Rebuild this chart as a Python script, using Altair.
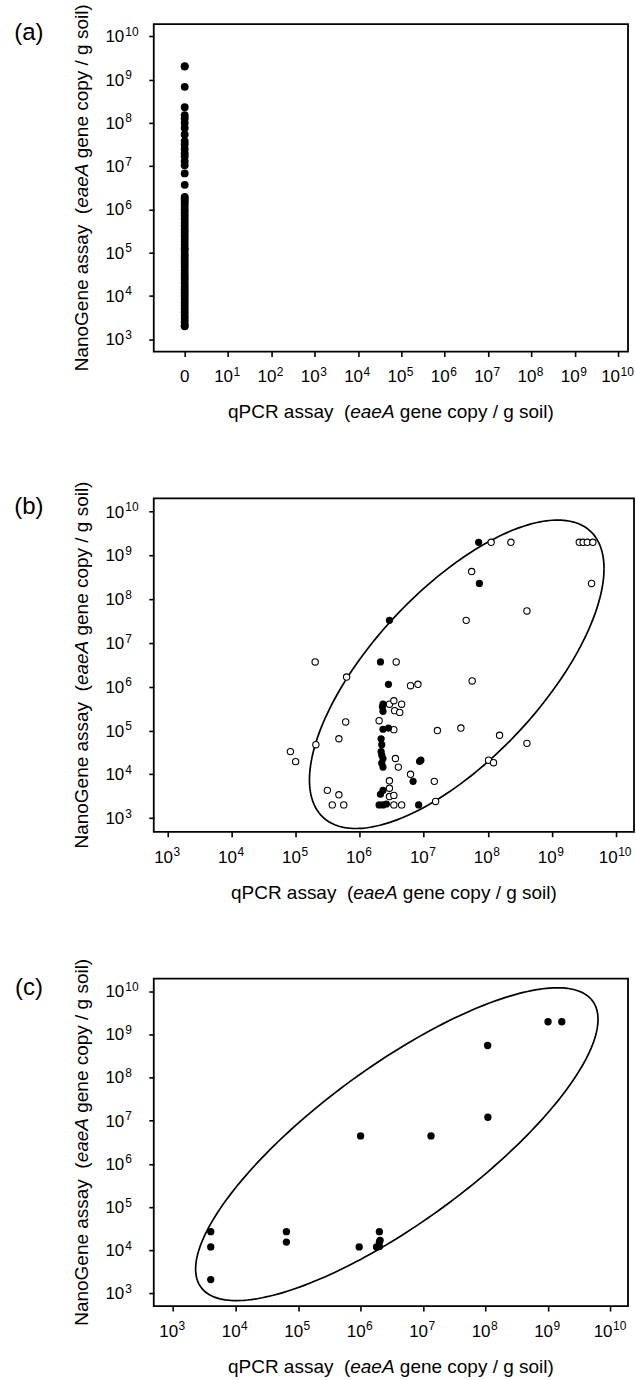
import numpy as np
import pandas as pd
import altair as alt

FONT = "Liberation Sans"

# ---------------- data (copies / g soil) ----------------
# (a) samples negative by qPCR: drawn at the "0" position of the log axis
a_qpcr_zero = 1.0
a_nano = [2.0e9, 2.05e9, 6.8e8, 2.3e8, 1.5e8, 1.26e8, 1.0e8, 7.6e7, 5.4e7,
          3.8e7, 3.2e7, 2.5e7, 2.0e7, 1.7e7, 1.3e7, 1.05e7, 6.8e6, 3.7e6,
          1.95e6, 1.78e6, 1.58e6, 1.41e6, 1.2e6, 1.0e6, 8.5e5, 7.1e5, 6.0e5,
          5.0e5, 4.2e5, 3.5e5, 3.0e5, 2.5e5, 2.1e5, 1.8e5, 1.5e5, 1.26e5,
          1.12e5, 9.3e4, 7.9e4, 6.6e4, 5.6e4, 4.8e4, 4.0e4, 3.3e4, 2.8e4,
          2.4e4, 2.0e4, 1.66e4, 1.41e4, 1.2e4, 1.0e4, 8.5e3, 7.1e3, 6.0e3,
          5.0e3, 4.2e3, 3.5e3, 3.0e3, 2.5e3, 2.1e3, 2.0e3]

# (b) open circles
b_open_qpcr = [2.0e5, 3.7e6, 6.2e5, 6.2e6, 8.1e6, 5.7e7, 2.9e6, 3.4e6, 4.5e6,
               3.5e6, 4.2e6, 2.0e6, 6.0e5, 3.4e6, 1.63e7, 3.8e7, 1.53e8, 4.1e8,
               4.7e5, 2.05e5, 3.6e6, 4.0e6, 6.2e6, 1.46e7, 1.03e8, 1.23e8,
               2.9e6, 2.9e6, 2.9e6, 3.4e6, 3.1e5, 4.7e5, 3.7e5, 5.6e5, 3.4e6,
               4.5e6, 1.53e7, 1.13e8, 2.3e8, 2.7e9, 3.1e9, 3.6e9, 4.4e9,
               5.6e7, 4.2e9, 4.1e8, 4.6e7, 8.2e4, 9.9e4]
b_open_nano = [3.7e6, 3.7e6, 1.67e6, 1.06e6, 1.14e6, 1.36e6, 4.0e5, 4.8e5, 4.0e5,
               2.85e5, 2.6e5, 1.68e5, 1.57e5, 1.05e5, 1.0e5, 1.14e5, 7.8e4, 5.1e4,
               6.5e4, 4.75e4, 2.3e4, 1.46e4, 1.0e4, 6.9e3, 2.1e4, 1.84e4,
               7.1e3, 4.8e3, 3.1e3, 3.3e3, 4.3e3, 3.4e3, 2.0e3, 2.0e3, 2.0e3,
               2.0e3, 2.4e3, 2.0e9, 2.0e9, 2.0e9, 2.0e9, 2.0e9, 2.0e9,
               4.3e8, 2.3e8, 5.4e7, 3.3e7, 3.3e4, 1.95e4]
# (b) filled circles
b_fill_qpcr = [2.1e6, 2.8e6, 2.3e6, 2.25e6, 2.3e6, 2.3e6, 2.8e6, 2.15e6, 2.2e6,
               2.15e6, 2.2e6, 2.3e6, 2.2e6, 2.3e6, 8.6e6, 9.0e6, 6.8e6, 2.3e6,
               2.1e6, 2.0e6, 2.3e6, 2.6e6, 8.3e6, 7.2e7, 7.4e7, 2.9e6]
b_fill_nano = [3.7e6, 1.14e6, 4.0e5, 3.5e5, 2.75e5, 1.07e5, 1.14e5, 6.5e4, 4.75e4,
               3.3e4, 2.75e4, 2.3e4, 1.8e4, 1.46e4, 1.97e4, 2.1e4, 6.9e3, 4.3e3,
               3.5e3, 2.0e3, 2.0e3, 2.1e3, 2.0e3, 2.0e9, 2.3e8, 3.3e7]

# (c)
c_qpcr = [4.0e3, 4.0e3, 4.0e3, 6.5e4, 6.5e4, 9.5e5, 1.8e6, 2.0e6, 2.0e6, 2.05e6,
          2.0e6, 1.0e6, 1.34e7, 1.09e8, 1.08e8, 1.0e9, 1.66e9]
c_nano = [2.7e4, 1.2e4, 2.1e3, 2.7e4, 1.55e4, 1.2e4, 1.2e4, 2.7e4, 1.55e4, 1.7e4,
          1.22e4, 4.45e6, 4.45e6, 1.2e7, 5.5e8, 1.95e9, 1.95e9]

# ellipse outlines (log10 units): centre, half-width, half-height, coupling
b_ellipse = {"cx": 7.515, "cy": 6.286, "w": 2.303, "h": 3.524, "sxy": 5.56}
c_ellipse = {"cx": 6.58, "cy": 6.456, "w": 3.22, "h": 3.62, "sxy": 9.3}

# axis tick exponents and text
a_x_exps = list(range(1, 11))
bc_x_exps = list(range(3, 11))
y_exps = list(range(3, 11))
panel_letters = ["(a)", "(b)", "(c)"]
X_TITLE = ["qPCR assay", "(", "eaeA", "gene copy / g soil)"]
Y_TITLE = ["NanoGene assay", "(", "eaeA", "gene copy / g soil)"]
# start offsets of each title piece in em (Arial metrics), total length
X_TITLE_OFF = [0.0, 6.113, 6.446, 9.059]
X_TITLE_LEN = 17.174
Y_TITLE_OFF = [0.0, 8.282, 8.615, 11.228]
Y_TITLE_LEN = 19.343


def ellipse_df(p, n=241):
    t = np.linspace(0, 2 * np.pi, n)
    b = p["sxy"] / p["w"]
    c = np.sqrt(p["h"] ** 2 - b ** 2)
    lx = p["cx"] + p["w"] * np.cos(t)
    ly = p["cy"] + b * np.cos(t) + c * np.sin(t)
    return pd.DataFrame({"x": 10 ** lx, "y": 10 ** ly, "i": np.arange(n)})


ONE = pd.DataFrame({"k": [0]})
TICK_FS = 17
EXP_FS = 12
TITLE_FS = 19


def make_panel(W, H, xdom, ydom, x_exps, letter, point_layers, ellipse=None,
               zero_label=False):
    xs = alt.Scale(type="log", domain=[10 ** xdom[0], 10 ** xdom[1]], nice=False, zero=False)
    ys = alt.Scale(type="log", domain=[10 ** ydom[0], 10 ** ydom[1]], nice=False, zero=False)
    xvals = [10.0 ** e for e in x_exps] + ([1.0] if zero_label else [])
    xa = alt.Axis(values=xvals, labels=False, title=None, domain=False, grid=False,
                  ticks=True, tickSize=5, tickWidth=1.6, tickColor="black")
    ya = alt.Axis(values=[10.0 ** e for e in y_exps], labels=False, title=None,
                  domain=False, grid=False, ticks=True, tickSize=5, tickWidth=1.6,
                  tickColor="black")

    def X():
        return alt.X("x:Q", scale=xs, axis=xa)

    def Y():
        return alt.Y("y:Q", scale=ys, axis=ya)

    layers = []
    if ellipse is not None:
        layers.append(alt.Chart(ellipse_df(ellipse)).mark_line(
            color="black", strokeWidth=1.7).encode(x=X(), y=Y(), order="i:Q"))
    for df, kind, size in point_layers:
        if kind == "open":
            m = alt.Chart(df).mark_point(shape="circle", filled=True, fill="white",
                                         stroke="black", strokeWidth=1.1, size=size, opacity=1)
        else:
            m = alt.Chart(df).mark_circle(color="black", size=size, opacity=1)
        layers.append(m.encode(x=X(), y=Y()))

    # x tick labels
    single = pd.DataFrame({"x": [10.0 ** e for e in x_exps if e < 10],
                           "e": [str(e) for e in x_exps if e < 10]})
    double = pd.DataFrame({"x": [10.0 ** e for e in x_exps if e >= 10],
                           "e": [str(e) for e in x_exps if e >= 10]})
    for df, dx in [(single, 5), (double, 2)]:
        layers.append(alt.Chart(df).mark_text(
            text="10", align="right", baseline="middle", dx=dx, fontSize=TICK_FS,
            font=FONT, color="black").encode(x=X(), y=alt.value(H + 26)))
        layers.append(alt.Chart(df).mark_text(
            align="left", baseline="middle", dx=dx + 0.5, fontSize=EXP_FS,
            font=FONT, color="black").encode(x=X(), y=alt.value(H + 20.5), text="e:N"))
    if zero_label:
        layers.append(alt.Chart(pd.DataFrame({"x": [a_qpcr_zero]})).mark_text(
            text="0", align="center", baseline="middle", fontSize=TICK_FS,
            font=FONT, color="black").encode(x=X(), y=alt.value(H + 26)))

    # y tick labels
    ydf = pd.DataFrame({"y": [10.0 ** e for e in y_exps], "e": [str(e) for e in y_exps]})
    layers.append(alt.Chart(ydf).mark_text(
        text="10", align="right", baseline="middle", fontSize=TICK_FS, dy=1,
        font=FONT, color="black").encode(y=Y(), x=alt.value(-29.5)))
    layers.append(alt.Chart(ydf).mark_text(
        align="left", baseline="middle", fontSize=EXP_FS, dy=-4.5,
        font=FONT, color="black").encode(y=Y(), x=alt.value(-28.5), text="e:N"))

    # x title (centered under the plot)
    x0 = W / 2 - X_TITLE_LEN * TITLE_FS / 2
    for txt, off in zip(X_TITLE, X_TITLE_OFF):
        layers.append(alt.Chart(ONE).mark_text(
            text=txt, align="left", baseline="middle", fontSize=TITLE_FS, font=FONT,
            fontStyle="italic" if txt == "eaeA" else "normal", color="black").encode(
            x=alt.value(x0 + off * TITLE_FS), y=alt.value(H + 61)))
    # y title (rotated, centered on the plot)
    y0 = H / 2 + Y_TITLE_LEN * TITLE_FS / 2
    for txt, off in zip(Y_TITLE, Y_TITLE_OFF):
        layers.append(alt.Chart(ONE).mark_text(
            text=txt, align="left", baseline="middle", angle=270, fontSize=TITLE_FS,
            font=FONT, fontStyle="italic" if txt == "eaeA" else "normal",
            color="black").encode(x=alt.value(-72), y=alt.value(y0 - off * TITLE_FS)))
    # panel letter
    layers.append(alt.Chart(ONE).mark_text(
        text=letter, align="center", baseline="middle", fontSize=24, font=FONT,
        color="black").encode(x=alt.value(-125), y=alt.value(9)))

    return alt.layer(*layers).properties(width=W, height=H)


a_df = pd.DataFrame({"x": [a_qpcr_zero] * len(a_nano), "y": a_nano})
b_open = pd.DataFrame({"x": b_open_qpcr, "y": b_open_nano})
b_fill = pd.DataFrame({"x": b_fill_qpcr, "y": b_fill_nano})
c_df = pd.DataFrame({"x": c_qpcr, "y": c_nano})

pa = make_panel(475, 328, (-0.714, 10.23), (2.716, 10.284), a_x_exps, panel_letters[0],
                [(a_df, "fill", 62)], zero_label=True)
pb = make_panel(481, 334, (2.777, 10.287), (2.687, 10.307), bc_x_exps, panel_letters[1],
                [(b_open, "open", 40), (b_fill, "fill", 52)], ellipse=b_ellipse)
pc = make_panel(475, 328, (2.69, 10.28), (2.71, 10.29), bc_x_exps, panel_letters[2],
                [(c_df, "fill", 54)], ellipse=c_ellipse)

chart = alt.vconcat(pa, pb, pc, spacing=147, bounds="flush").properties(
    padding={"left": 13, "top": 2, "right": 1, "bottom": 2},
    background="white",
).configure_view(stroke="black", strokeWidth=1.8)

chart.save("out.html", embed_options={"renderer": "svg", "actions": False})
